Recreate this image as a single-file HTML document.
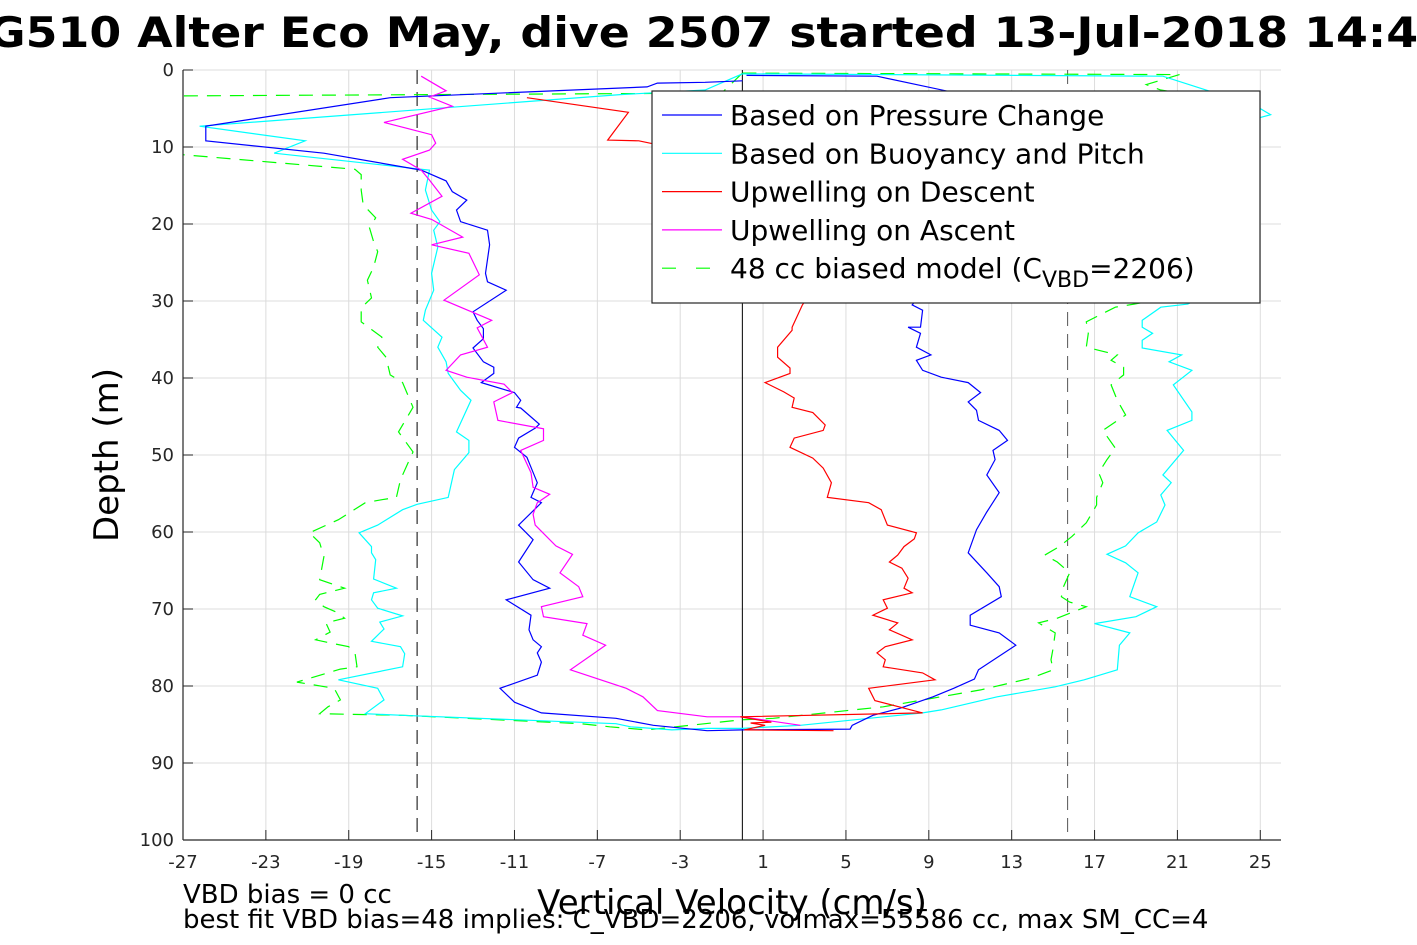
<!DOCTYPE html>
<html><head><meta charset="utf-8"><style>
body{margin:0;background:#fff;}
svg{display:block;font-family:"DejaVu Sans","Liberation Sans",sans-serif;}
</style></head><body>
<svg id="chart" width="1417" height="945" viewBox="0 0 1417 945" xmlns="http://www.w3.org/2000/svg">
<defs><clipPath id="pc"><rect x="183" y="70" width="1098" height="770"/></clipPath></defs>
<text x="-12" y="47" font-size="42" font-weight="bold" textLength="1462" lengthAdjust="spacingAndGlyphs">G510 Alter Eco May, dive 2507 started 13-Jul-2018 14:40</text>
<g id="grid"></g>
<g id="marks" clip-path="url(#pc)"></g>
<g id="axes"></g>
<text transform="translate(118,455) rotate(-90)" text-anchor="middle" font-size="34">Depth (m)</text>
<text x="732" y="914" text-anchor="middle" font-size="34">Vertical Velocity (cm/s)</text>
<text x="183" y="903" font-size="26">VBD bias = 0 cc</text>
<text x="183" y="928" font-size="26">best fit VBD bias=48 implies: C_VBD=2206, volmax=55586 cc, max SM_CC=4</text>
<g id="legend"></g>
</svg>
<script>
const xTicks=[-27,-23,-19,-15,-11,-7,-3,1,5,9,13,17,21,25];
const yTicks=[0,10,20,30,40,50,60,70,80,90,100];
const refLines=[-15.7,0,15.7];
// Based on pressure change (descent then ascent)
const bluePDepth=[0.7,0.8,2.8,6,10,15,20,25,30.5,31.2,33.4,33.4,34.2,36,37,37.7,39,39.9,40.6,41.9,43.1,44.2,45.5,46.8,48.1,49.4,50.6,52.6,54.9,57.4,59.7,62.7,65.3,67.1,68.4,70.8,72.1,73.1,74.7,77.9,79.1,80.3,81.4,82.9,83.8,85.1,85.6,85.7,85.8,85.1,84.2,83.5,82.1,80.3,78.6,76.9,75.7,74.9,74.0,72.7,70.8,68.8,67.3,66.2,63.9,61.0,59.1,56.2,55.5,53.6,51.6,50.3,49.0,47.8,46.5,46.0,43.9,43.8,42.9,41.9,40.6,39.4,38.6,37.9,36.1,34.9,33.6,32.5,31.4,28.6,27.5,26.4,22.7,20.8,19.7,18.2,16.9,15.8,14.4,13.0,10.8,9.2,7.3,3.6,2.2,1.7,1.6,1.4];
const bluePVel=[0.2,6.5,10,10.5,10.8,10.2,10.6,9.8,8.2,8.7,8.6,8.0,8.6,8.4,9.1,8.4,8.7,9.6,10.9,11.5,10.9,11.3,11.4,12.4,12.8,12.1,12.2,11.8,12.4,11.8,11.3,10.9,11.8,12.4,12.5,11.0,11.0,12.4,13.2,11.4,11.2,10.2,9.2,7.6,6.3,5.3,5.2,0,-1.7,-4.3,-6.1,-9.7,-11.0,-11.7,-9.9,-9.7,-9.9,-9.7,-10.1,-10.3,-10.2,-11.4,-9.3,-10.1,-10.8,-10.1,-10.8,-9.7,-10.2,-9.9,-10.2,-10.4,-11.0,-10.8,-10.0,-9.8,-10.7,-10.9,-10.7,-11.0,-12.6,-12.0,-12.0,-12.5,-13.0,-12.5,-12.5,-12.8,-13.0,-11.4,-12.3,-12.4,-12.2,-12.3,-13.6,-13.8,-13.3,-14.0,-14.3,-15.5,-20.2,-25.9,-25.9,-17.0,-4.6,-4.1,-1.8,0];
// Based on buoyancy and pitch
const cyanDepth=[0.5,0.8,2.7,3.9,5.8,6.9,9.1,11.4,16.9,22.7,27.3,30.4,30.8,32.5,33.4,34.2,35.1,36.1,37,37.9,39,40.9,44.4,45.5,46.8,49.4,52.6,53.6,55.2,56.5,58.7,60.1,61.8,62.9,64,65.3,68.4,69.7,71,71.9,73.1,74.7,77.9,79.2,80.1,81.4,83.1,83.5,85.1,85.5,85.5,85.7,85.3,84.9,83.8,83.6,81.8,80.3,79.2,77.5,75.8,74.9,74.2,72.6,71.7,70.9,69.9,68.8,67.9,67.3,66.1,63.6,62.7,61.9,60.1,59.1,57.1,56.4,55.5,51.9,49.7,48.1,47,42.9,41.6,39.4,37.9,36,34.7,32.5,31.2,28.6,26.4,23,20.8,19.7,18.2,15.6,13,10.8,9.2,7.3,3.2,2.6,0.5];
const cyanVel=[0,20.3,22.5,24.3,25.5,24.0,24.5,24.1,24.5,24.2,23.8,21.5,20.2,19.3,19.3,19.8,19.3,19.3,21.2,20.6,21.7,20.8,21.7,21.7,20.5,21.3,20.3,20.7,20.2,20.4,20.0,19.1,18.5,17.6,18.5,19.1,18.7,20.0,19.0,17.0,18.7,18.2,18.1,16.5,15.1,12.3,9.6,8.7,2.8,0,-1.7,-3.4,-5.4,-6.1,-16.4,-18.2,-17.3,-17.6,-19.5,-16.4,-16.3,-16.5,-17.9,-17.3,-17.5,-16.4,-17.6,-17.9,-17.8,-16.7,-17.8,-17.7,-17.9,-17.9,-18.5,-17.6,-16.4,-15.7,-14.2,-13.9,-13.2,-13.2,-13.8,-13.1,-13.6,-14.2,-14.3,-14.7,-14.5,-15.4,-15.3,-14.9,-15.0,-14.7,-14.9,-14.6,-15.0,-15.3,-15.1,-22.6,-21.1,-26.2,-5.9,-1.8,0];
// Upwelling on descent
const redDepth=[3.6,5.5,9.1,9.2,12,18,25,29,30.5,33.4,33.8,36,37.3,38.7,39.4,40.6,41.8,42.6,43.8,44.5,46.1,46.8,47.8,49,50.4,51.7,53.6,55.5,56.2,57.1,59.1,60.1,60.9,61.9,63,63.9,64.7,66,67.3,67.9,68.8,69.9,70.8,71.8,72.7,74,74.9,75.7,76.6,77.5,78.3,79.2,80.3,81.9,83.5,84,84.7,84.8,85.1,85.7,85.8];
const redVel=[-10.4,-5.5,-6.5,-5,0,2.5,3,3.3,2.9,2.4,2.4,1.7,1.7,2.3,2.3,1.1,2.0,2.5,2.4,3.4,4.0,3.9,2.5,2.3,3.4,3.9,4.3,4.1,6.1,6.7,7.0,8.4,8.3,7.8,7.5,7.1,7.7,8.0,7.8,8.2,6.8,7.0,6.3,7.5,7.1,8.2,6.9,6.5,6.9,6.8,8.7,9.3,6.1,6.4,8.7,-0.1,1.4,0.4,1.1,0.1,4.4];
// Upwelling on ascent
const magDepth=[85.1,84,84,83.2,81.4,80.3,77.9,74.7,73.4,71.9,71,69.7,68.4,67.1,65.3,62.9,61.8,59.1,57.7,56.2,55.1,54.2,52.3,49.4,48.1,46.6,45.5,43.1,41.9,40.8,39.9,39,37,36,33.5,32.5,29.9,26.6,23.8,22.7,21.7,19.4,18.6,16.4,14.3,13,11.6,10.4,9.5,8.4,6.8,4.7,3.5,2.7,0.8];
const magVel=[2.8,0,-1.7,-4.1,-4.8,-5.6,-8.3,-6.6,-7.7,-7.5,-9.6,-9.7,-7.7,-7.9,-8.8,-8.2,-9.0,-10.0,-10.1,-9.9,-9.3,-10.1,-10.2,-10.7,-9.6,-9.6,-11.8,-12.0,-11.1,-11.5,-13.3,-14.3,-13.6,-12.3,-12.8,-12.1,-14.4,-12.7,-13.2,-15.0,-13.5,-15.0,-16.0,-14.5,-15.1,-15.5,-16.4,-15.1,-14.8,-15.0,-17.3,-14.0,-15.1,-14.3,-15.5];
// 48 cc biased model
const modelDepth=[0.4,0.6,1.9,2.6,3.9,7.8,14.3,22.7,27.9,30.4,30.8,32.7,34.2,36,36.4,37,37.7,38.6,39.6,40.9,42.9,44.8,46.8,49.1,50.6,52.3,53.6,55.5,56.5,58.8,60.6,61.9,63,63.9,65.3,67.1,68.4,69.1,69.7,71.2,71.8,73.1,75.1,76.6,77.9,79,80.5,82.7,84.2,84.4,85.7,85.3,84.9,83.8,83.6,82.7,81.8,80.3,79.5,77.8,77.5,75.7,74.9,74.4,74,73,71.8,71.2,70.4,69.7,68.8,68.1,67.3,66.2,63.2,61.4,60.1,58.4,56.2,55.8,55.5,53.2,49.6,47,43.8,40.6,39.6,37.3,36,34.7,32.7,30.9,29.6,27.3,25.6,23.6,22.3,20.5,19.2,17.5,15.6,13.6,12.9,11,10.8,3.4,3.0,0.4];
const modelVel=[0,21.1,19.5,20.2,23.1,24.5,24.6,24.9,24.1,18.9,18.0,16.6,16.7,16.6,17.2,18.1,17.8,18.4,18.4,17.8,18.1,18.5,17.4,18.0,17.6,17.2,17.4,17.1,17.1,16.6,15.9,15.3,14.6,15.2,15.8,15.5,15.4,15.8,16.6,15.2,14.3,15.1,15.0,14.9,15.0,13.9,11.5,6.8,1.5,-0.1,-4.6,-6.4,-7.8,-16.4,-20.4,-20.0,-19.4,-19.7,-21.5,-19.4,-18.6,-18.7,-19.0,-19.9,-20.6,-19.9,-20.1,-19.2,-19.6,-20.2,-20.6,-20.4,-19.2,-20.4,-20.2,-20.4,-20.9,-19.5,-18.2,-17.4,-16.7,-16.5,-15.9,-16.6,-15.9,-16.4,-17.0,-17.2,-17.6,-17.4,-18.4,-18.4,-17.9,-18.1,-17.8,-17.6,-17.8,-18.0,-17.7,-18.3,-18.4,-18.4,-18.7,-27,-30,-30,-1,0];
const legendLabels=["Based on Pressure Change","Based on Buoyancy and Pitch","Upwelling on Descent","Upwelling on Ascent","48 cc biased model (C"];

const X0=183,X1=1281,Y0=70,Y1=840,VMIN=-27,VMAX=26,DMIN=0,DMAX=100;
const xs=v=>X0+(v-VMIN)/(VMAX-VMIN)*(X1-X0);
const ys=d=>Y0+(d-DMIN)/(DMAX-DMIN)*(Y1-Y0);
const NS="http://www.w3.org/2000/svg";
function mk(tag,attrs,parent){const e=document.createElementNS(NS,tag);for(const k in attrs)e.setAttribute(k,attrs[k]);parent.appendChild(e);return e;}
const grid=document.getElementById('grid'),axes=document.getElementById('axes'),marks=document.getElementById('marks'),legend=document.getElementById('legend');
xTicks.forEach(t=>{
  const g=mk('line',{x1:xs(t),x2:xs(t),y1:Y0,y2:Y1,stroke:'#dcdcdc','stroke-width':1},grid);
  
  
  const tk=mk('line',{x1:xs(t),x2:xs(t),y1:Y1,y2:Y1-10,stroke:'#262626','stroke-width':1},axes);
  
  
  const lb=mk('text',{x:xs(t),y:Y1+28,'text-anchor':'middle','font-size':18,fill:'#262626'},axes);
  lb.textContent=t;
  
  
});
yTicks.forEach(t=>{
  const g=mk('line',{x1:X0,x2:X1,y1:ys(t),y2:ys(t),stroke:'#dcdcdc','stroke-width':1},grid);
  
  
  const tk=mk('line',{x1:X0,x2:X0+10,y1:ys(t),y2:ys(t),stroke:'#262626','stroke-width':1},axes);
  
  
  const lb=mk('text',{x:X0-9,y:ys(t)+6,'text-anchor':'end','font-size':18,fill:'#262626'},axes);
  lb.textContent=t;
  
  
});
const ax1=mk('line',{x1:X0,x2:X0,y1:Y0,y2:Y1,stroke:'#262626','stroke-width':1.2},axes);


const ax2=mk('line',{x1:X0,x2:X1,y1:Y1,y2:Y1,stroke:'#262626','stroke-width':1.2},axes);



refLines.forEach((v,i)=>{
  const l=mk('line',{x1:xs(v),x2:xs(v),y1:Y0,y2:Y1,stroke:i===2?'#555':'#000','stroke-width':1,'stroke-dasharray':v===0?'none':'14,8'},marks);
  
  
});
function series(vel,dep,color,dash,name){
  const pts=vel.map((v,i)=>xs(v).toFixed(1)+','+ys(dep[i]).toFixed(1)).join(' ');
  const p=mk('polyline',{points:pts,fill:'none',stroke:color,'stroke-width':1.2,'stroke-dasharray':dash||'none'},marks);
  
  
}
series(modelVel,modelDepth,'#00ff00','14,9','series-biased-model');
series(cyanVel,cyanDepth,'#00ffff',null,'series-buoyancy-pitch');
series(bluePVel,bluePDepth,'#0000ff',null,'series-pressure-change');
series(magVel,magDepth,'#ff00ff',null,'series-upwelling-ascent');
series(redVel,redDepth,'#ff0000',null,'series-upwelling-descent');

const box=mk('rect',{x:652,y:91,width:608,height:212,fill:'#fff',stroke:'#262626','stroke-width':1.2},legend);


const lc=['#0000ff','#00ffff','#ff0000','#ff00ff','#00ff00'];
legendLabels.forEach((s,i)=>{
  const y=115+i*38.3;
  const l=mk('line',{x1:662,x2:722,y1:y,y2:y,stroke:lc[i],'stroke-width':1.2,'stroke-dasharray':i===4?'14,20':'none'},legend);
  
  
  const t=mk('text',{x:730,y:y+10,'font-size':28,fill:'#000'},legend);
  
  
  t.textContent=s;
  if(i===4){
    const sub=mk('tspan',{dy:9,'font-size':22},t);sub.textContent='VBD';
    const rest=mk('tspan',{dy:-9},t);rest.textContent='=2206)';
  }
});
</script>
</body></html>
